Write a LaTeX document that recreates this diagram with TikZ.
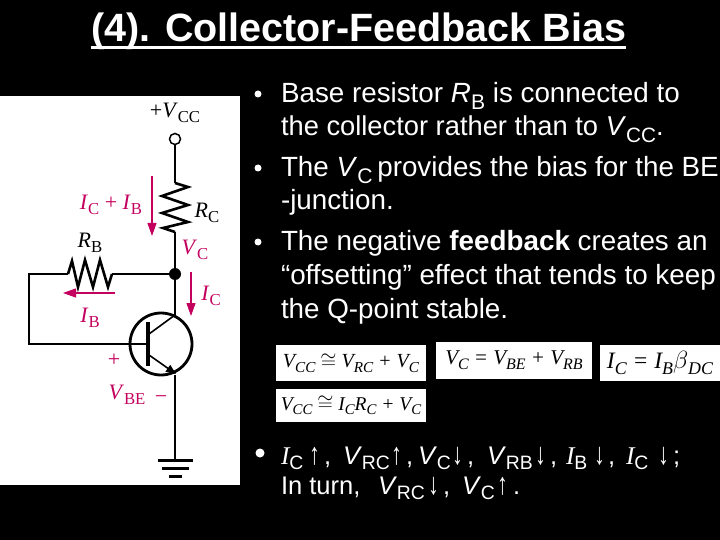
\documentclass[tikz,border=0pt]{standalone}
\usepackage{fontspec}
\setmainfont{Liberation Sans}
\newfontfamily\seriffont{Liberation Serif}
\usetikzlibrary{arrows.meta}
\definecolor{curcol}{HTML}{C4005E}
\newcommand{\sbs}[1]{\raisebox{-0.22em}{\scalebox{0.76}{\upshape #1}}}
\newcommand{\itl}[1]{\textit{#1}}
\newcommand{\bsl}[1]{{\seriffont\itshape #1}}
\newcommand{\tok}[2]{\makebox[#1pt][l]{#2}}
\newcommand{\aup}{\scalebox{0.85}[1.2]{↑}}
\newcommand{\adn}{\scalebox{0.85}[1.2]{↓}}
\tikzset{
 x=1pt,y=-1pt,
 wire/.style={line width=1.6pt,black},
 zig/.style={line width=2.6pt,black,line join=miter},
 current/.style={line width=1.2pt,curcol,-{Triangle[length=13pt,width=9pt]}},
 slide/.style={anchor=base west,inner sep=0pt,outer sep=0pt,text=white,font=\fontsize{27.8}{32}\selectfont},
 slide small/.style={slide,font=\fontsize{25.5}{30}\selectfont},
 bullet/.style={circle,fill=white,inner sep=0pt,minimum size=7pt},
 blk/.style={inner sep=0pt,font=\seriffont\fontsize{22}{24}\selectfont,text=black},
 red lab/.style={inner sep=0pt,font=\seriffont\fontsize{22}{24}\selectfont,text=curcol},
 eqbox/.style={fill=white,inner sep=0pt,text=black,font=\seriffont\itshape\fontsize{20}{22}\selectfont},
 dot/.style={circle,fill=black,inner sep=0pt,minimum size=12pt},
 term/.style={circle,draw=black,line width=1.5pt,fill=white,inner sep=0pt,minimum size=11pt},
}
\begin{document}
\begin{tikzpicture}
\useasboundingbox (0,0) rectangle (720,540);
\fill[black] (0,0) rectangle (720,540);
\node[anchor=base west,inner sep=0pt,text=white,font=\bfseries\fontsize{39.5}{42}\selectfont] (title) at (91,42) {(4). Collector-Feedback Bias};
\draw[white,line width=2.5pt] ([yshift=-5.5pt]title.base west) -- ([yshift=-5.5pt]title.base east);
\fill[white] (0,96) rectangle (240,485);
% circuit
\node[term] (vcc) at (175,139) {};
\coordinate (rctop) at (175,183);
\coordinate (rcbot) at (175,232);
\node[dot] (j) at (175,274) {};
\coordinate (cwire) at (175,315);
\coordinate (ewire) at (176,374);
\coordinate (ewire2) at (175,375);
\coordinate (gnd) at (175,460);
\coordinate (bl) at (29,274);
\coordinate (bb) at (29,344);
\coordinate (rbl) at (68,274);
\coordinate (rbr) at (112,274);
\coordinate (base) at (146,344);
\node[circle,draw=black,line width=2.8pt,inner sep=0pt,minimum size=62pt] (q) at (161,344) {};
\draw[wire] (vcc) -- (rctop);
\draw[zig] (rctop) -- (188,187) -- (162,196) -- (188,205) -- (162,213) -- (188,222) -- (163,228) -- (rcbot);
\draw[wire] (rcbot) -- (j);
\draw[wire] (j) -- (rbr);
\draw[zig] (rbr) -- (108,287) -- (100,260) -- (93,287) -- (85,260) -- (78,287) -- (72,261) -- (rbl);
\draw[wire] (rbl) -- (bl) -- (bb) -- (base);
\draw[wire] (j) -- (cwire) -- (149,334);
\draw[line width=4pt] (147.5,322) -- (147.5,366);
\draw[wire,-{Triangle[length=10pt,width=8pt]}] (149,355) -- (ewire);
\draw[wire] (ewire2) -- (gnd);
\draw[line width=3pt] (158,460) -- (193,460);
\draw[line width=3pt] (162,468) -- (189,468);
\draw[line width=3pt] (169,476) -- (182,476);
\node[blk] (lvcc) at (175,113) {+\itl{V}\sbs{CC}};
\node[blk] (lrc) at (207,213) {\itl{R}\sbs{C}};
\node[blk] (lrb) at (90,243) {\itl{R}\sbs{B}};
\node[red lab] (lib1) at (111,205) {\itl{I}\sbs{C} + \itl{I}\sbs{B}};
\node[red lab] (lvc) at (195,250) {\itl{V}\sbs{C}};
\node[red lab] (lic) at (211,296) {\itl{I}\sbs{C}};
\node[red lab] (lib) at (90,318) {\itl{I}\sbs{B}};
\node[red lab] (lp) at (114,360) {+};
\node[red lab] (lvbe) at (127,395) {\itl{V}\sbs{BE}};
\node[red lab] (lm) at (161,400) {−};
\coordinate (a1s) at (152,176); \coordinate (a1e) at (152,236);
\coordinate (a2s) at (191,272); \coordinate (a2e) at (191,316);
\coordinate (a3s) at (115,293); \coordinate (a3e) at (63,293);
\draw[current] (a1s) -- (a1e);
\draw[current] (a2s) -- (a2e);
\draw[current] (a3s) -- (a3e);
% bullets
\node[bullet] (b1) at (258,94) {};
\node[bullet] (b2) at (258,168) {};
\node[bullet] (b3) at (258,242) {};
\node[slide] (t1) at (281,103) {Base resistor \itl{R}\sbs{B} is connected to};
\node[slide,font=\fontsize{27.3}{32}\selectfont] (t2) at (281,136) {the collector rather than to \itl{V}\sbs{CC}.};
\node[slide] (t3) at (281,177) {The \itl{V}\sbs{C}\hspace{-3pt} provides the bias for the BE};
\node[slide] (t4) at (281,210) {-junction.};
\node[slide] (t5) at (281,251) {The negative \textbf{feedback} creates an};
\node[slide] (t6) at (281,284) {“offsetting” effect that tends to keep};
\node[slide] (t7) at (281,318) {the Q-point stable.};
% equations
\node[eqbox,minimum width=150pt,minimum height=36pt] (e1) at (351,363) {V\sbs{\itshape CC} $\cong$ V\sbs{\itshape RC} + V\sbs{\itshape C}};
\node[eqbox,minimum width=156pt,minimum height=37pt,font=\seriffont\itshape\fontsize{21}{22}\selectfont] (e2) at (514,360.5) {V\sbs{\itshape C} = V\sbs{\itshape BE} + V\sbs{\itshape RB}};
\node[eqbox,minimum width=120pt,minimum height=36pt,font=\seriffont\itshape\fontsize{23.5}{25}\selectfont] (e3) at (660,363) {I\sbs{\itshape C} = I\sbs{\itshape B}$\beta$\sbs{\itshape DC}};
\node[eqbox,minimum width=150pt,minimum height=33pt,font=\seriffont\itshape\fontsize{19.5}{21}\selectfont] (e4) at (351,405.5) {V\sbs{\itshape CC} $\cong$ I\sbs{\itshape C}R\sbs{\itshape C} + V\sbs{\itshape C}};
% bottom
\node[bullet,minimum size=9pt] (b4) at (260,453) {};
\node[slide small] (t8) at (281,464) {\tok{28}{\bsl{I}\sbs{C}}\tok{15}{\aup}\tok{19}{,}\tok{48}{\itl{V}\sbs{RC}}\tok{15}{\aup}\tok{12}{,}\tok{34}{\itl{V}\sbs{C}}\tok{15}{\adn}\tok{20}{,}\tok{48}{\itl{V}\sbs{RB}}\tok{15}{\adn}\tok{16}{,}\tok{28}{\bsl{I}\sbs{B}}\tok{14}{\adn}\tok{18}{,}\tok{32}{\bsl{I}\sbs{C}}\tok{15}{\adn};};
\node[slide small] (t9) at (281,494) {\tok{97}{In turn,}\tok{50}{\itl{V}\sbs{RC}}\tok{15}{\adn}\tok{19}{,}\tok{35}{\itl{V}\sbs{C}}\tok{16}{\aup}.};
\end{tikzpicture}
\end{document}
